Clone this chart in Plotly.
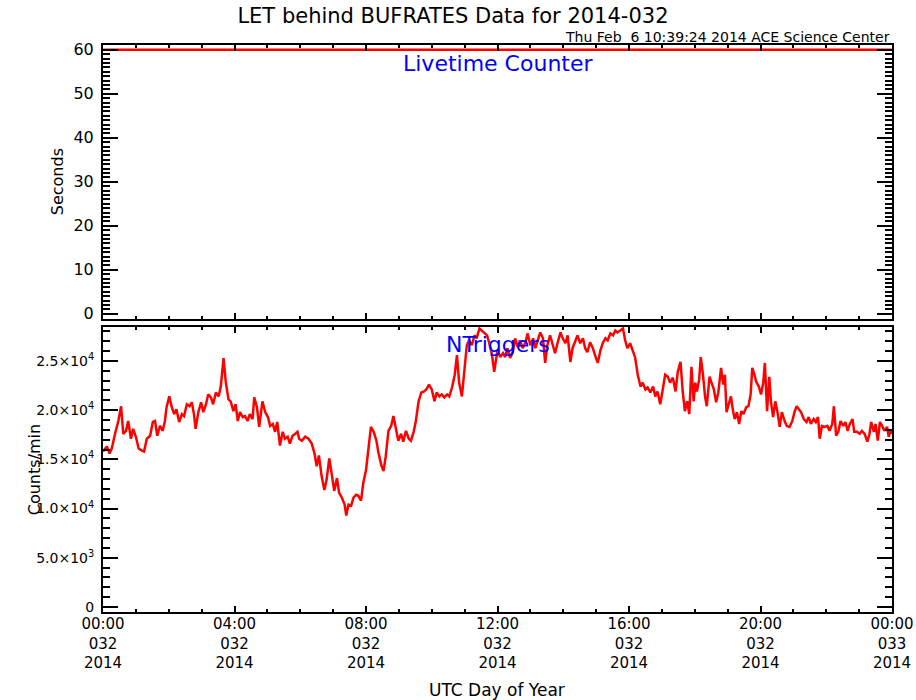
import plotly.graph_objects as go

#
# LET behind BUFRATES, day 2014-032
#

# time axis in minutes after 00:00 UTC of day 032
hour_ticks = [0, 240, 480, 720, 960, 1200, 1440]
hour_labels = ['00:00<br>032<br>2014', '04:00<br>032<br>2014', '08:00<br>032<br>2014',
               '12:00<br>032<br>2014', '16:00<br>032<br>2014', '20:00<br>032<br>2014',
               '00:00<br>033<br>2014']

# livetime counter (seconds)
live_min = [0, 1440]
live_sec = [60, 60]

# NTriggers (counts/min)
trig_min = [
    0, 7, 12, 16, 22, 28, 33, 37, 42, 46, 51, 55, 60, 65, 71, 75, 80, 86, 91, 95,
    99, 104, 109, 113, 116, 121, 125, 130, 134, 139, 144, 148, 153, 158, 162, 166, 169, 174, 179, 183,
    188, 192, 197, 201, 206, 211, 215, 220, 224, 229, 233, 238, 242, 246, 250, 255, 259, 264, 268, 273,
    276, 281, 285, 291, 296, 301, 305, 310, 314, 318, 323, 328, 332, 337, 341, 346, 351, 355, 358, 363,
    369, 375, 381, 386, 390, 394, 399, 404, 408, 413, 418, 422, 427, 431, 436, 441, 444, 448, 453, 457,
    462, 466, 471, 475, 480, 485, 489, 494, 499, 503, 508, 512, 516, 521, 526, 530, 534, 539, 544, 548,
    553, 558, 562, 567, 571, 576, 581, 586, 590, 595, 600, 605, 609, 614, 618, 623, 628, 632, 637, 642,
    646, 650, 655, 660, 664, 668, 673, 678, 682, 687, 691, 696, 701, 705, 710, 714, 720, 725, 730, 734,
    738, 743, 748, 752, 757, 761, 766, 771, 775, 780, 785, 789, 793, 798, 803, 807, 811, 816, 821, 825,
    830, 835, 839, 844, 848, 853, 857, 862, 866, 871, 876, 880, 884, 889, 894, 898, 903, 908, 912, 917,
    921, 926, 931, 935, 939, 944, 949, 953, 957, 962, 967, 971, 976, 981, 985, 990, 994, 999, 1004, 1008,
    1012, 1017, 1021, 1026, 1031, 1035, 1040, 1045, 1049, 1054, 1058, 1062, 1066, 1070, 1074, 1078, 1081, 1084, 1088, 1091,
    1095, 1099, 1102, 1107, 1110, 1115, 1119, 1123, 1128, 1132, 1135, 1138, 1142, 1146, 1150, 1153, 1157, 1161, 1165, 1169,
    1174, 1178, 1182, 1185, 1189, 1192, 1197, 1201, 1205, 1208, 1212, 1216, 1219, 1223, 1227, 1231, 1235, 1239, 1244, 1248,
    1253, 1258, 1262, 1266, 1270, 1274, 1279, 1284, 1288, 1292, 1297, 1301, 1305, 1308, 1312, 1317, 1322, 1326, 1331, 1334,
    1338, 1342, 1346, 1351, 1355, 1359, 1363, 1368, 1371, 1376, 1381, 1385, 1390, 1395, 1399, 1402, 1407, 1410, 1414, 1418,
    1422, 1426, 1431, 1434, 1437, 1440,
]
trig_counts = [
    15800, 16300, 15600, 16100, 17600, 18900, 20400, 17600, 17900, 18900, 17100, 18100, 17300, 16100, 15900, 15800, 17100, 17400, 18800, 18900,
    17400, 18400, 17900, 18900, 20300, 21400, 20400, 19600, 20100, 18800, 19600, 19400, 20600, 20400, 20800, 19600, 18100, 19800, 20800, 19800,
    20600, 21600, 21300, 20600, 21800, 21400, 22400, 25300, 22900, 21100, 20900, 19900, 20600, 18900, 19800, 19300, 19400, 18900, 19600, 19100,
    21300, 20300, 18300, 20900, 19800, 19300, 18400, 18600, 17800, 18800, 16400, 17800, 17100, 17300, 16600, 17400, 17600, 17800, 17100, 16900,
    17300, 17100, 16600, 15600, 14300, 15400, 13300, 11900, 12900, 15100, 13300, 11800, 13100, 11600, 11100, 10400, 9300, 10400, 10300, 11100,
    11400, 11300, 10800, 12600, 13900, 16600, 18300, 17800, 16900, 15600, 14400, 13800, 15300, 17900, 18400, 19400, 18300, 16900, 17600, 16800,
    17900, 17100, 16900, 17800, 18900, 20900, 21800, 21900, 22100, 22600, 22100, 20900, 21800, 21400, 21600, 21300, 21600, 21400, 22300, 23600,
    25600, 22800, 21400, 24300, 26600, 27100, 26600, 27600, 27300, 28300, 28100, 27800, 27600, 26800, 25600, 23900, 26100, 25400, 25800, 25400,
    26300, 25300, 25900, 27300, 26400, 27100, 26300, 26900, 27800, 26600, 27300, 26300, 27100, 27900, 27300, 24800, 26600, 27600, 26600, 25800,
    26900, 27900, 27300, 26800, 27600, 24900, 26300, 27100, 27600, 26800, 27300, 26300, 25900, 26900, 26300, 25600, 24800, 26100, 26800, 27300,
    27100, 27800, 27600, 28100, 27900, 28100, 28300, 27100, 26300, 26800, 25900, 25400, 23600, 22400, 22800, 22100, 22300, 21800, 22400, 21400,
    21900, 20600, 21900, 23600, 23400, 22800, 23300, 21900, 23900, 24900, 21900, 19900, 20900, 19600, 24400, 20900, 22800, 21900, 23100, 25400,
    23600, 21300, 20400, 23400, 22900, 22100, 20800, 21800, 24300, 22600, 23600, 19800, 20600, 21400, 19900, 19100, 19800, 18600, 19900, 19600,
    20300, 20400, 21600, 24300, 23600, 22900, 22400, 21600, 22800, 24800, 19900, 23400, 20900, 19300, 20900, 19800, 18300, 19800, 18900, 18400,
    18300, 18900, 19800, 20400, 20100, 19800, 19100, 18800, 19300, 18600, 19100, 18800, 19300, 17100, 18400, 18300, 18400, 17900, 18600, 20400,
    17400, 17800, 18900, 18400, 18800, 17900, 18600, 19100, 17800, 17800, 17600, 17900, 17600, 16800, 17600, 18800, 17800, 18600, 16900, 18800,
    18400, 17900, 18300, 17300, 17900, 17600,
]

count_ticks = [0, 5000, 10000, 15000, 20000, 25000]
count_labels = ['0', '5.0×10<sup>3</sup>', '1.0×10<sup>4</sup>', '1.5×10<sup>4</sup>',
                '2.0×10<sup>4</sup>', '2.5×10<sup>4</sup>']

FONT = 'DejaVu Sans'

fig = go.Figure()
fig.add_trace(go.Scatter(x=live_min, y=live_sec, mode='lines',
                         line=dict(color='#ff0000', width=2.5),
                         xaxis='x2', yaxis='y2'))
fig.add_trace(go.Scatter(x=trig_min, y=trig_counts, mode='lines',
                         line=dict(color='#ff0000', width=2.5)))

xcommon = dict(range=[0, 1440], showline=True, linewidth=2, linecolor='black',
               mirror='ticks', ticks='inside', ticklen=6, tickwidth=2, tickcolor='black',
               tickmode='array', tickvals=hour_ticks, showgrid=False, zeroline=False,
               automargin=False, tickfont=dict(size=15), ticklabelstandoff=-3,
               minor=dict(ticks='inside', tick0=0, dtick=60, ticklen=3, tickwidth=2,
                          tickcolor='black', showgrid=False))
ycommon = dict(showline=True, linewidth=2, linecolor='black', mirror='ticks',
               ticks='inside', ticklen=15, tickwidth=2, tickcolor='black',
               showgrid=False, zeroline=False, ticklabelstandoff=4, automargin=False)

fig.update_layout(
    width=916, height=700,
    margin=dict(l=103, r=24, t=45, b=88),
    paper_bgcolor='white', plot_bgcolor='white',
    showlegend=False,
    font=dict(family=FONT, size=15, color='black'),
    xaxis=dict(xcommon, anchor='y', ticktext=hour_labels, domain=[0, 1]),
    yaxis=dict(ycommon, domain=[0, 0.5026], range=[-510, 28450],
               tickmode='array', tickvals=count_ticks, ticktext=count_labels,
               tickfont=dict(size=14),
               minor=dict(ticks='inside', tick0=0, dtick=1000, ticklen=7, tickwidth=2,
                          tickcolor='black', showgrid=False)),
    xaxis2=dict(xcommon, anchor='y2', showticklabels=False, matches='x'),
    yaxis2=dict(ycommon, domain=[0.5168, 1], range=[-1.2, 61.1], dtick=10, tick0=0,
                tickfont=dict(size=16),
                minor=dict(ticks='inside', tick0=0, dtick=1, ticklen=7, tickwidth=2,
                           tickcolor='black', showgrid=False)),
    title=dict(text='LET behind BUFRATES Data for 2014-032', x=0.4945, y=0.978,
               xanchor='center', yanchor='middle', font=dict(family=FONT, size=21)),
)

notes = [
    dict(text='Thu Feb\u00a0\u00a06 10:39:24 2014 ACE Science Center', x=1.0, y=1.014,
         xanchor='right', yanchor='middle', font=dict(size=14)),
    dict(text='Livetime Counter', x=0.5, y=0.968, xanchor='center', yanchor='middle',
         font=dict(size=22, color='#0000ff')),
    dict(text='NTriggers', x=0.5, y=0.471, xanchor='center', yanchor='middle',
         font=dict(size=22, color='#0000ff')),
    dict(text='Seconds', x=-0.0583, y=0.758, textangle=-90, xanchor='center',
         yanchor='middle', font=dict(size=16)),
    dict(text='Counts/min', x=-0.0874, y=0.25, textangle=-90, xanchor='center',
         yanchor='middle', font=dict(size=16)),
    dict(text='UTC Day of Year', x=0.4994, y=-0.1376, xanchor='center', yanchor='middle',
         font=dict(size=17)),
]
for n in notes:
    fig.add_annotation(n, xref='paper', yref='paper', showarrow=False)

# no modebar; drop the page's default body margin so the figure sits at the corner
fig.write_html("out.html", config={'displayModeBar': False},
               post_script="document.body.style.margin = '0';")
